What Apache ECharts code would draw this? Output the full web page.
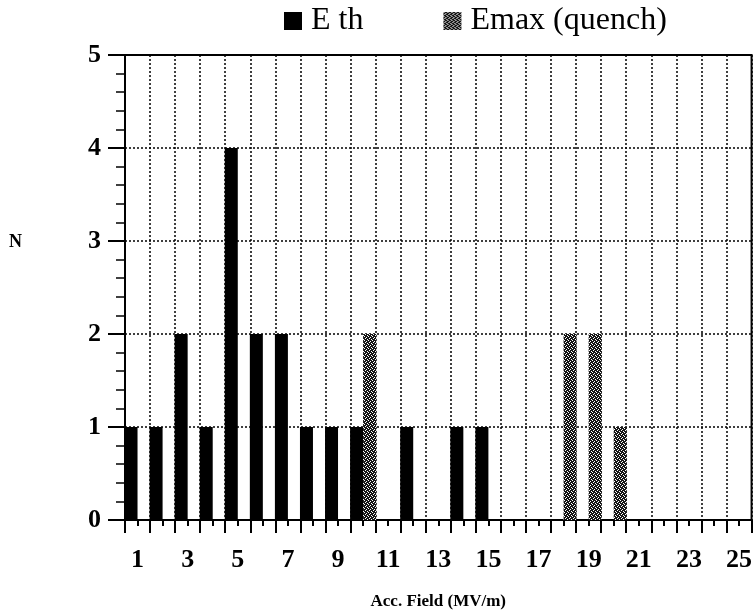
<!DOCTYPE html>
<html>
<head>
<meta charset="utf-8">
<script src="https://cdn.jsdelivr.net/npm/echarts@6/dist/echarts.min.js"></script>
<style>
  html, body { margin: 0; padding: 0; background: #fff; }
  #chart { width: 755px; height: 615px; }
</style>
</head>
<body>
<div id="chart"></div>
<script>
// data
const fields = ['1','2','3','4','5','6','7','8','9','10','11','12','13','14','15','16','17','18','19','20','21','22','23','24','25'];
const eth  = [1,1,2,1,4,2,2,1,1,1,0,1,0,1,1,0,0,0,0,0,0,0,0,0,0];
const emax = [0,0,0,0,0,0,0,0,0,2,0,0,0,0,0,0,0,2,2,1,0,0,0,0,0];
const yTicks = [0, 1, 2, 3, 4, 5];

// stipple pattern for the quench bars
const pat = document.createElement('canvas');
pat.width = 4; pat.height = 4;
const ctx = pat.getContext('2d');
ctx.fillStyle = '#151515';
ctx.fillRect(0, 0, 4, 4);
ctx.fillStyle = '#ffffff';
[[0,0],[2,1],[1,2],[3,3]].forEach(p => ctx.fillRect(p[0], p[1], 1, 1));

const serif = '"Liberation Serif", "DejaVu Serif", serif';
const chart = echarts.init(document.getElementById('chart'));

chart.setOption({
  animation: false,
  backgroundColor: '#fff',
  legend: {
    left: 279,
    top: 0,
    itemWidth: 18,
    itemHeight: 18,
    itemGap: 80,
    icon: 'rect',
    textStyle: { fontFamily: serif, fontSize: 32, color: '#000', padding: [0, 0, 0, 4] },
    data: ['E th', 'Emax (quench)']
  },
  graphic: [
    {
      type: 'text',
      left: 9,
      top: 233,
      style: { text: 'N', font: 'bold 18px "Liberation Serif"', fill: '#000' }
    }
  ],
  grid: {
    left: 125, right: 2, top: 55, bottom: 93,
    show: true, borderColor: '#000', borderWidth: 2
  },
  xAxis: [
    {
      type: 'category',
      data: fields,
      boundaryGap: true,
      name: 'Acc. Field (MV/m)',
      nameLocation: 'middle',
      nameGap: 73,
      nameTextStyle: { fontFamily: serif, fontSize: 17, fontWeight: 'bold', color: '#000' },
      axisLine: { lineStyle: { color: '#000', width: 2 } },
      axisTick: { show: true, interval: 0, length: 13, lineStyle: { color: '#000', width: 2 } },
      axisLabel: { interval: 1, margin: 27, fontFamily: serif, fontSize: 26, fontWeight: 'bold', color: '#000' },
      splitLine: { show: true, interval: 0, lineStyle: { color: '#000', width: 1.5, type: [2, 2] } }
    },
    {
      type: 'category',
      data: fields,
      position: 'bottom',
      boundaryGap: true,
      axisLine: { show: false },
      axisTick: { show: true, interval: 0, alignWithLabel: true, length: 6, lineStyle: { color: '#000', width: 2 } },
      axisLabel: { show: false, interval: 0 },
      splitLine: { show: false }
    }
  ],
  yAxis: {
    type: 'value',
    min: yTicks[0],
    max: yTicks[yTicks.length - 1],
    interval: 1,
    axisLine: { show: true, lineStyle: { color: '#000', width: 2 } },
    axisTick: { show: true, length: 17, lineStyle: { color: '#000', width: 2 } },
    minorTick: { show: true, splitNumber: 5, length: 9, lineStyle: { color: '#000', width: 1.5 } },
    axisLabel: { margin: 24, fontFamily: serif, fontSize: 26, fontWeight: 'bold', color: '#000' },
    splitLine: { show: true, lineStyle: { color: '#000', width: 1.5, type: [2, 2] } }
  },
  series: [
    {
      name: 'E th',
      type: 'bar',
      data: eth,
      barWidth: 13,
      barGap: '0%',
      itemStyle: { color: '#000' }
    },
    {
      name: 'Emax (quench)',
      type: 'bar',
      data: emax,
      barWidth: 13,
      barGap: '0%',
      itemStyle: { color: { image: pat, repetition: 'repeat' } }
    }
  ]
});
</script>
</body>
</html>
